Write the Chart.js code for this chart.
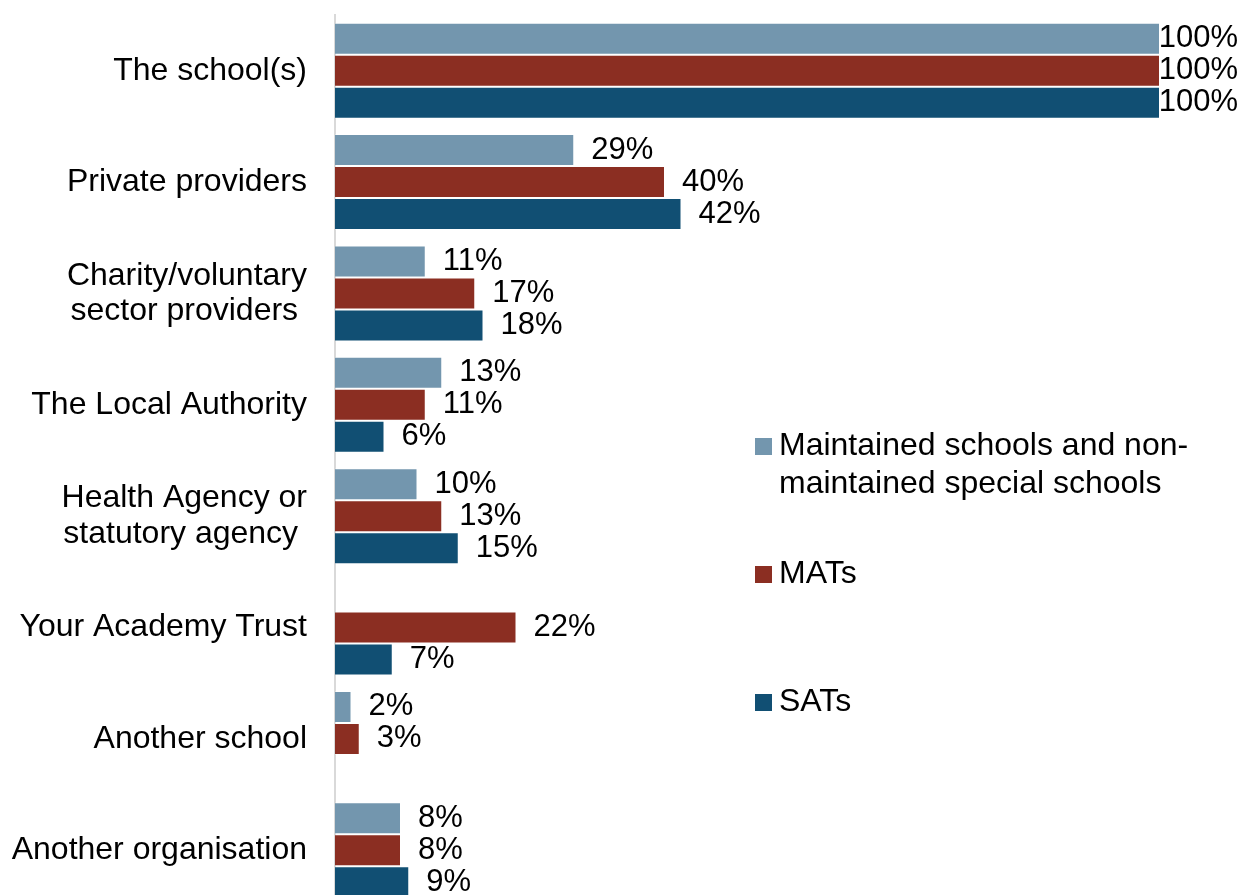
<!DOCTYPE html>
<html>
<head>
<meta charset="utf-8">
<title>Who provides the activities</title>
<script src="https://cdn.jsdelivr.net/npm/chart.js@4"></script>
<style>
  html, body { margin: 0; padding: 0; background: #fff; overflow: hidden; }
  #wrap { width: 1242px; height: 895px; overflow: hidden; }
</style>
</head>
<body>
<div id="wrap"><canvas id="myChart" width="1242" height="910"></canvas></div>
<script>
const categories = [
  'The school(s)',
  'Private providers',
  ['Charity/voluntary', 'sector providers '],
  'The Local Authority',
  ['Health Agency or', 'statutory agency '],
  'Your Academy Trust',
  'Another school',
  'Another organisation'
];

const seriesNames = [
  ['Maintained schools and non-', 'maintained special schools'],
  ['MATs'],
  ['SATs']
];

const maintained = [100, 29, 11, 13, 10, null, 2, 8];
const mats = [100, 40, 17, 11, 13, 22, 3, 8];
const sats = [100, 42, 18, 6, 15, 7, null, 9];

const colours = ['#7396AE', '#8B2E22', '#114F73'];

const FONT = "'Liberation Sans', Arial, sans-serif";

// percentage labels just past the end of each bar
const valueLabels = {
  id: 'valueLabels',
  afterDatasetsDraw(chart) {
    const ctx = chart.ctx;
    ctx.save();
    ctx.font = '31px ' + FONT;
    ctx.fillStyle = '#000';
    ctx.textBaseline = 'middle';
    ctx.textAlign = 'left';
    chart.data.datasets.forEach((ds, i) => {
      const meta = chart.getDatasetMeta(i);
      meta.data.forEach((bar, j) => {
        const v = ds.data[j];
        if (v === null || v === undefined) return;
        const txt = v + '%';
        const w = ctx.measureText(txt).width;
        let x = bar.x + 17;
        if (x + w > chart.width - 4) x = chart.width - 4 - w;
        ctx.fillText(txt, x, bar.y);
      });
    });
    ctx.restore();
  }
};

// legend sits inside the plot, on the right
const sideLegend = {
  id: 'sideLegend',
  afterDraw(chart) {
    const ctx = chart.ctx;
    const left = 755, box = 17;
    const tops = [438, 566, 694];
    ctx.save();
    ctx.font = '32px ' + FONT;
    ctx.textBaseline = 'alphabetic';
    ctx.textAlign = 'left';
    seriesNames.forEach((lines, i) => {
      ctx.fillStyle = colours[i];
      ctx.fillRect(left, tops[i], box, box);
      ctx.fillStyle = '#000';
      lines.forEach((line, k) => {
        ctx.fillText(line, left + box + 7, tops[i] + 17 + k * 38);
      });
    });
    ctx.restore();
  }
};

window.addEventListener('load', setup);

function setup() {
  const ctx = document.getElementById('myChart').getContext('2d');

  const myChart = new Chart(ctx, {
    type: 'bar',
    data: {
      labels: categories,
      datasets: [
        {
          label: seriesNames[0].join(''),
          data: maintained,
          backgroundColor: colours[0],
          borderColor: 'rgba(255, 255, 255, 0.3)',
          borderWidth: 1
        },
        {
          label: seriesNames[1][0],
          data: mats,
          backgroundColor: colours[1],
          borderColor: 'rgba(255, 255, 255, 0.3)',
          borderWidth: 1
        },
        {
          label: seriesNames[2][0],
          data: sats,
          backgroundColor: colours[2],
          borderColor: 'rgba(255, 255, 255, 0.3)',
          borderWidth: 1
        }
      ]
    },
    options: {
      indexAxis: 'y',
      responsive: false,
      animation: false,
      categoryPercentage: 0.862,
      barPercentage: 1,
      layout: {
        autoPadding: false,
        padding: { top: 15, right: 82, bottom: 4, left: 0 }
      },
      plugins: {
        legend: { display: false },
        tooltip: { enabled: false }
      },
      scales: {
        x: {
          display: false,
          min: 0,
          max: 100
        },
        y: {
          grid: { display: false, drawTicks: false },
          border: { display: true, color: '#d9d9d9', width: 2 },
          ticks: {
            color: '#000',
            padding: 28,
            font: { family: FONT, size: 32, lineHeight: 1.1 }
          },
          afterFit(scale) {
            scale.width = 335;
            scale.paddingTop = 0;
            scale.paddingBottom = 0;
          }
        }
      }
    },
    plugins: [valueLabels, sideLegend]
  });
}
</script>
</body>
</html>
